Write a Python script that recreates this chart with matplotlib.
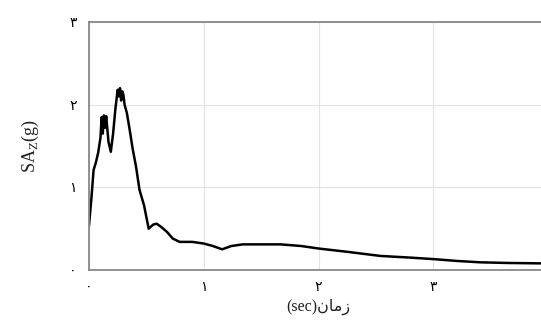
import numpy as np
import matplotlib.pyplot as plt

# spectral acceleration vs period
period = [0.0, 0.02, 0.04, 0.06, 0.08, 0.10, 0.11, 0.12, 0.13, 0.14, 0.15, 0.16, 0.17,
          0.19, 0.21, 0.23, 0.25, 0.26, 0.27, 0.28, 0.29, 0.30, 0.31, 0.33, 0.36,
          0.38, 0.41, 0.44, 0.48, 0.52, 0.56, 0.59, 0.63, 0.68, 0.73, 0.79,
          0.90, 1.00, 1.08, 1.16, 1.24, 1.34, 1.50, 1.67, 1.85, 2.00, 2.25,
          2.54, 2.80, 3.02, 3.20, 3.41, 3.65, 3.95]
sa = [0.54, 0.85, 1.21, 1.30, 1.42, 1.60, 1.85, 1.65, 1.87, 1.72, 1.86, 1.70, 1.55,
      1.43, 1.65, 1.95, 2.18, 2.10, 2.20, 2.05, 2.16, 2.12, 2.00, 1.90, 1.65,
      1.47, 1.25, 0.97, 0.78, 0.50, 0.55, 0.56, 0.52, 0.46, 0.38, 0.34,
      0.34, 0.32, 0.29, 0.25, 0.29, 0.31, 0.31, 0.31, 0.29, 0.26, 0.22,
      0.17, 0.15, 0.13, 0.11, 0.093, 0.085, 0.08]

fa = ['\u06f0', '\u06f1', '\u06f2', '\u06f3']
xlab = '(sec)\ufee5\ufe8e\ufee3\ufeaf'
fonts = ['Liberation Serif', 'DejaVu Sans']

fig = plt.figure(figsize=(5.41, 3.23), dpi=100)
ax = fig.add_axes([89/541, 53/323, 459/541, 248/323])
ax.plot(period, sa, color='black', lw=1.8)
ax.set_xlim(0, 4)
ax.set_ylim(0, 3)
ax.set_xticks([0, 1, 2, 3])
ax.set_xticklabels(fa, family=fonts, fontsize=10)
ax.set_yticks([0, 1, 2, 3])
ax.set_yticklabels(fa, family=fonts, fontsize=10)
ax.tick_params(axis='y', length=0, pad=9)
ax.tick_params(axis='x', length=0, pad=8)
ax.grid(True, color='#e3e3e3', lw=0.8)
for s in ['left', 'bottom', 'top']:
    ax.spines[s].set_color('#888888')
    ax.spines[s].set_linewidth(1.3)
ax.spines['right'].set_visible(False)
ax.set_xlabel(xlab, family=fonts, fontsize=11.5, labelpad=3, color='#222222')
ax.set_ylabel('SA$_\\mathregular{Z}$(g)', family=fonts, fontsize=13, labelpad=20,
              color='#222222')

plt.savefig('out.png', dpi=100)
